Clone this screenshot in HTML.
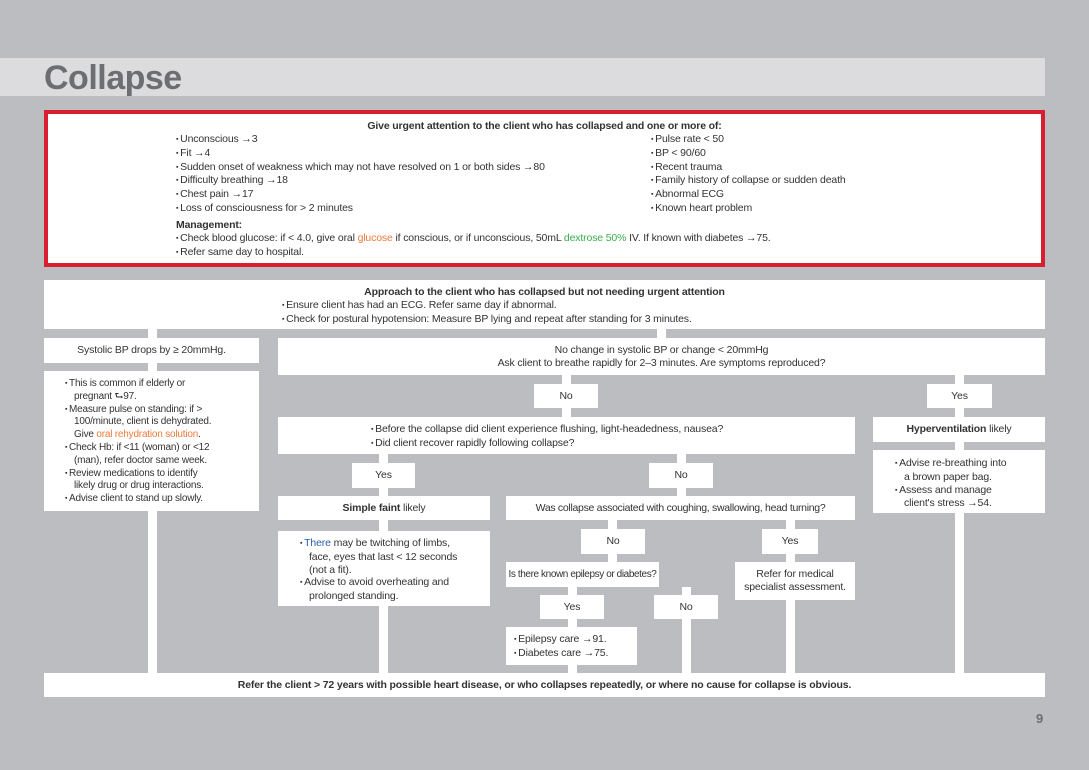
<!DOCTYPE html>
<html><head><meta charset="utf-8"><style>
*{margin:0;padding:0;box-sizing:border-box}
body{width:1089px;height:770px;background:#bcbdc0;position:relative;overflow:hidden;font-family:"Liberation Sans",sans-serif;font-size:10.5px;color:#333;letter-spacing:-0.15px}
.b{position:absolute;background:#fff;}
.c{display:flex;align-items:center;justify-content:center;text-align:center;flex-direction:column;line-height:13px;white-space:nowrap}
.v{position:absolute;background:#fff;width:9px}
ul{list-style:none;white-space:nowrap}
li{padding-left:9px;text-indent:-9px;line-height:12.8px}
li:before{content:"▪ ";font-size:7px;vertical-align:1px}
.o{color:#f07a3a}.g{color:#3aae4a}.bl{color:#2a5ca8}
</style></head><body>
<div style="position:absolute;left:0;top:58px;width:1045px;height:38px;background:#dcdcde"></div>
<div style="position:absolute;left:44px;top:59px;font-size:34px;font-weight:bold;color:#6d6e71;letter-spacing:-0.5px">Collapse</div>
<div style="position:absolute;left:44px;top:110px;width:1001px;height:157px;background:#fff;border:4px solid #d71f30"></div>
<div style="position:absolute;left:0;width:1089px;top:120px;text-align:center;font-weight:bold">Give urgent attention to the client who has collapsed and one or more of:</div>
<ul style="position:absolute;left:176px;top:133px">
<li>Unconscious →3</li><li>Fit →4</li><li>Sudden onset of weakness which may not have resolved on 1 or both sides →80</li><li>Difficulty breathing →18</li><li>Chest pain →17</li><li>Loss of consciousness for &gt; 2 minutes</li></ul>
<ul style="position:absolute;left:651px;top:133px">
<li>Pulse rate &lt; 50</li><li>BP &lt; 90/60</li><li>Recent trauma</li><li>Family history of collapse or sudden death</li><li>Abnormal ECG</li><li>Known heart problem</li></ul>
<div style="position:absolute;left:176px;top:219px;font-weight:bold">Management:</div>
<ul style="position:absolute;left:176px;top:232px">
<li>Check blood glucose: if &lt; 4.0, give oral <span class="o">glucose</span> if conscious, or if unconscious, 50mL <span class="g">dextrose 50%</span> IV. If known with diabetes →75.</li><li>Refer same day to hospital.</li></ul>

<div class="v" style="left:148px;top:329px;height:344px"></div>
<div class="v" style="left:657px;top:329px;height:9px"></div>
<div class="v" style="left:562px;top:375px;height:42px"></div>
<div class="v" style="left:955px;top:375px;height:298px"></div>
<div class="v" style="left:379px;top:454px;height:219px"></div>
<div class="v" style="left:677px;top:454px;height:42px"></div>
<div class="v" style="left:608px;top:520px;height:42px"></div>
<div class="v" style="left:786px;top:520px;height:153px"></div>
<div class="v" style="left:568px;top:587px;height:86px"></div>
<div class="v" style="left:682px;top:587px;height:86px"></div>

<div class="b" style="left:44px;top:280px;width:1001px;height:49px"></div>
<div style="position:absolute;left:0;width:1089px;top:286px;text-align:center;font-weight:bold">Approach to the client who has collapsed but not needing urgent attention</div>
<ul style="position:absolute;left:282px;top:299px"><li>Ensure client has had an ECG. Refer same day if abnormal.</li><li>Check for postural hypotension: Measure BP lying and repeat after standing for 3 minutes.</li></ul>

<div class="b c" style="left:44px;top:338px;width:215px;height:25px">Systolic BP drops by ≥ 20mmHg.</div>
<div class="b" style="left:44px;top:371px;width:215px;height:140px"><ul style="position:absolute;left:21px;top:7px;font-size:10px;letter-spacing:-0.2px">
<li>This is common if elderly or<br>pregnant ⮑97.</li><li>Measure pulse on standing: if &gt;<br>100/minute, client is dehydrated.<br>Give <span class="o">oral rehydration solution</span>.</li><li>Check Hb: if &lt;11 (woman) or &lt;12<br>(man), refer doctor same week.</li><li>Review medications to identify<br>likely drug or drug interactions.</li><li>Advise client to stand up slowly.</li></ul></div>

<div class="b c" style="left:278px;top:338px;width:767px;height:37px">No change in systolic BP or change &lt; 20mmHg<br>Ask client to breathe rapidly for 2–3 minutes. Are symptoms reproduced?</div>
<div class="b c" style="left:534px;top:384px;width:64px;height:24px">No</div>
<div class="b c" style="left:927px;top:384px;width:65px;height:24px">Yes</div>
<div class="b" style="left:278px;top:417px;width:577px;height:37px"><ul style="position:absolute;left:93px;top:6px"><li>Before the collapse did client experience flushing, light-headedness, nausea?</li><li>Did client recover rapidly following collapse?</li></ul></div>
<div class="b c" style="left:873px;top:417px;width:172px;height:25px"><span><b>Hyperventilation</b> likely</span></div>
<div class="b" style="left:873px;top:450px;width:172px;height:63px"><ul style="position:absolute;left:22px;top:7px"><li>Advise re-breathing into<br>a brown paper bag.</li><li>Assess and manage<br>client's stress →54.</li></ul></div>
<div class="b c" style="left:352px;top:463px;width:63px;height:25px">Yes</div>
<div class="b c" style="left:649px;top:463px;width:64px;height:25px">No</div>
<div class="b c" style="left:278px;top:496px;width:212px;height:24px"><span><b>Simple faint</b> likely</span></div>
<div class="b c" style="left:506px;top:496px;width:349px;height:24px;letter-spacing:-0.3px">Was collapse associated with coughing, swallowing, head turning?</div>
<div class="b" style="left:278px;top:531px;width:212px;height:75px"><ul style="position:absolute;left:22px;top:6px"><li><span class="bl">There</span> may be twitching of limbs,<br>face, eyes that last &lt; 12 seconds<br>(not a fit).</li><li>Advise to avoid overheating and<br>prolonged standing.</li></ul></div>
<div class="b c" style="left:581px;top:529px;width:64px;height:25px">No</div>
<div class="b c" style="left:762px;top:529px;width:56px;height:25px">Yes</div>
<div class="b c" style="left:506px;top:562px;width:153px;height:25px;font-size:10px;letter-spacing:-0.4px">Is there known epilepsy or diabetes?</div>
<div class="b c" style="left:735px;top:562px;width:120px;height:38px">Refer for medical<br>specialist assessment.</div>
<div class="b c" style="left:540px;top:595px;width:64px;height:24px">Yes</div>
<div class="b c" style="left:654px;top:595px;width:64px;height:24px">No</div>
<div class="b" style="left:506px;top:627px;width:131px;height:38px"><ul style="position:absolute;left:8px;top:6px"><li>Epilepsy care →91.</li><li>Diabetes care →75.</li></ul></div>
<div class="b c" style="left:44px;top:673px;width:1001px;height:24px;font-weight:bold">Refer the client &gt; 72 years with possible heart disease, or who collapses repeatedly, or where no cause for collapse is obvious.</div>
<div style="position:absolute;left:1036px;top:711px;font-weight:bold;font-size:13px;color:#6d6e71">9</div>
</body></html>
